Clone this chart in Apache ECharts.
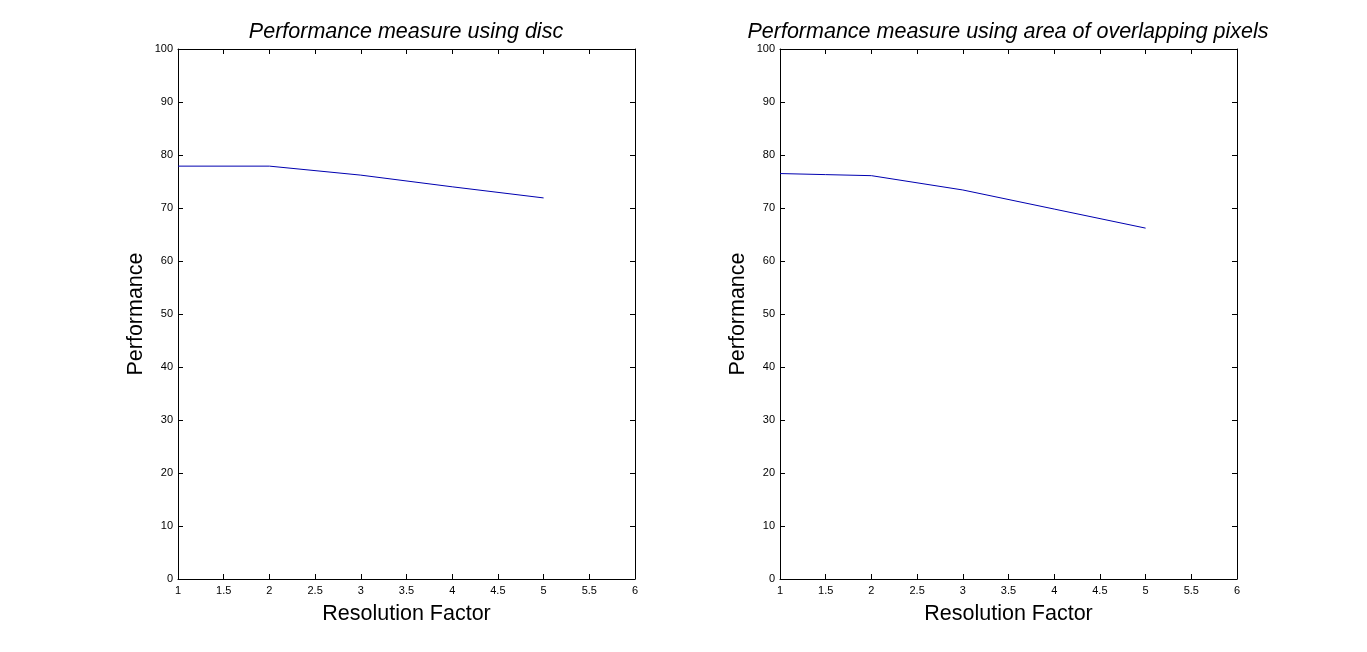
<!DOCTYPE html>
<html><head><meta charset="utf-8">
<script src="https://cdn.jsdelivr.net/npm/echarts@6/dist/echarts.min.js"></script>
<style>html,body{margin:0;padding:0;background:#fff}#c{width:1367px;height:652px}</style>
</head><body><div id="c"></div>
<script>
const titles = ['Performance measure using disc', 'Performance measure using area of overlapping pixels'];
const xName = 'Resolution Factor';
const yName = 'Performance';
const resolution = [1, 2, 3, 4, 5];
const perfDisc = [77.9, 77.9, 76.2, 74.0, 71.9];
const resolution2 = [1, 1.5, 2, 3, 4, 5];
const perfArea = [76.5, 76.3, 76.1, 73.4, 69.8, 66.2];

const chart = echarts.init(document.getElementById('c'));
const font = 'Liberation Sans, Arial, sans-serif';
const grids = [
  {left: 178, right: 732, top: 49, bottom: 73},
  {left: 780, right: 130, top: 49, bottom: 73}
];
function xAxes(i) {
  const base = {type: 'value', min: 1, max: 6, interval: 0.5, gridIndex: i,
    axisLine: {show: true, onZero: false, lineStyle: {color: '#000', width: 1}},
    axisTick: {show: true, inside: true, length: 5, lineStyle: {color: '#000'}},
    splitLine: {show: false}};
  return [
    Object.assign({}, base, {position: 'bottom', name: xName, nameLocation: 'middle', nameGap: 24,
      nameTextStyle: {fontFamily: font, fontSize: 21.5, color: '#000'},
      axisLabel: {show: true, fontFamily: font, fontSize: 11, color: '#000', margin: 6}}),
    Object.assign({}, base, {position: 'top', axisLabel: {show: false}})
  ];
}
function yAxes(i) {
  const base = {type: 'value', min: 0, max: 100, interval: 10, gridIndex: i,
    axisLine: {show: true, onZero: false, lineStyle: {color: '#000', width: 1}},
    axisTick: {show: true, inside: true, length: 5, lineStyle: {color: '#000'}},
    splitLine: {show: false}};
  return [
    Object.assign({}, base, {position: 'left', name: yName, nameLocation: 'middle', nameGap: 31,
      nameTextStyle: {fontFamily: font, fontSize: 21.5, color: '#000'},
      axisLabel: {show: true, fontFamily: font, fontSize: 11, color: '#000', margin: 5}}),
    Object.assign({}, base, {position: 'right', axisLabel: {show: false}})
  ];
}
const titleStyle = {fontFamily: font, fontSize: 21.5, fontStyle: 'italic', fontWeight: 'normal', color: '#000'};
chart.setOption({
  animation: false,
  backgroundColor: '#fff',
  title: [
    {text: titles[0], left: 401, top: 16, textAlign: 'center', textStyle: titleStyle},
    {text: titles[1], left: 1003, top: 16, textAlign: 'center', textStyle: titleStyle}
  ],
  grid: grids,
  xAxis: [...xAxes(0), ...xAxes(1)],
  yAxis: [...yAxes(0), ...yAxes(1)],
  series: [
    {type: 'line', xAxisIndex: 0, yAxisIndex: 0, data: resolution.map((x, k) => [x, perfDisc[k]]),
     symbol: 'none', lineStyle: {color: '#0000b0', width: 1}},
    {type: 'line', xAxisIndex: 2, yAxisIndex: 2, data: resolution2.map((x, k) => [x, perfArea[k]]),
     symbol: 'none', lineStyle: {color: '#0000b0', width: 1}}
  ]
});
</script></body></html>
